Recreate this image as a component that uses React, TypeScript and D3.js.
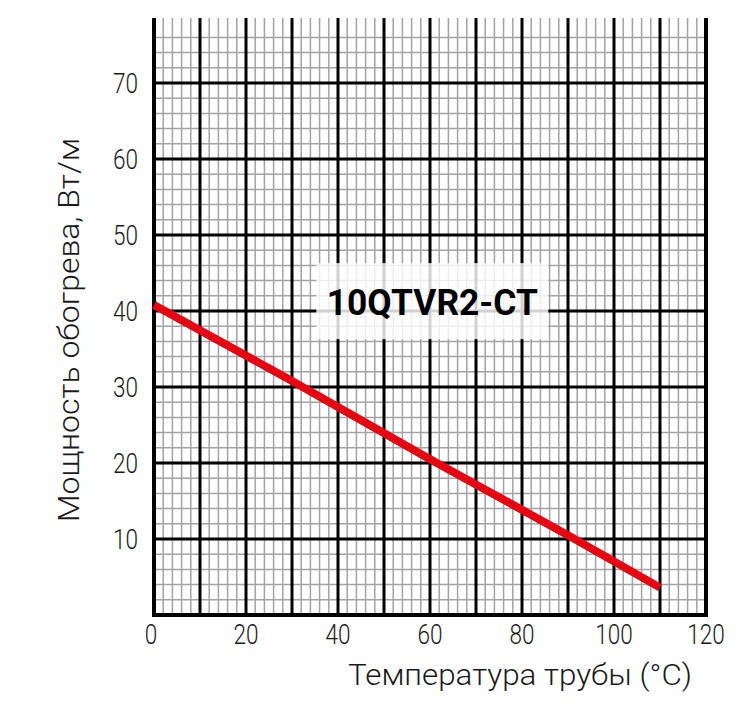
import React from 'react';
import * as d3 from 'd3';

// power curve: pipe temperature (°C) -> heat output (W/m)
const temps = [0, 30, 60, 90, 110];
const power = [40.8, 30.8, 20.5, 10.5, 3.6];

const xTicks = [0, 20, 40, 60, 80, 100, 120];
const yTicks = [10, 20, 30, 40, 50, 60, 70];

const seriesName = '10QTVR2-CT';
const xTitle = 'Температура трубы (°C)';
const yTitle = 'Мощность обогрева, Вт/м';

const width = 750;
const height = 710;
const margin = { top: 18, right: 44, bottom: 95, left: 154 };

const App: React.FC = () => {
    const x = d3.scaleLinear().domain([0, 120]).range([margin.left, width - margin.right]);
    const y = d3.scaleLinear().domain([0, 10]).range([height - margin.bottom, height - margin.bottom - 76]);
    const yTop = margin.top;
    const yBottom = y(0);

    // minor grid every 2 units, major every 10
    const minorX = d3.range(2, 120, 2).filter((v) => v % 10 !== 0);
    const majorX = d3.range(10, 120, 10);
    const minorY = d3.range(2, 78, 2).filter((v) => v % 10 !== 0);
    const majorY = d3.range(10, 78, 10);

    const line = d3
        .line<number>()
        .x((_, i) => x(temps[i]))
        .y((d) => y(d));

    const font = 'Roboto, "DejaVu Sans", sans-serif';
    // the original uses a condensed face, so squeeze the digits a little
    const digitWidth = 12.5;

    return (
        <svg
            width={width}
            height={height}
            style={{ position: 'absolute', left: 0, top: 0, background: '#fff' }}
        >
            {/* minor grid */}
            <g stroke="#a3a3a3" strokeWidth={1.5}>
                {minorX.map((v) => (
                    <line key={'mx' + v} x1={x(v)} x2={x(v)} y1={yTop} y2={yBottom} />
                ))}
                {minorY.map((v) => (
                    <line key={'my' + v} x1={x(0)} x2={x(120)} y1={y(v)} y2={y(v)} />
                ))}
            </g>
            {/* major grid */}
            <g stroke="#000" strokeWidth={3}>
                {majorX.map((v) => (
                    <line key={'Mx' + v} x1={x(v)} x2={x(v)} y1={yTop} y2={yBottom} />
                ))}
                {majorY.map((v) => (
                    <line key={'My' + v} x1={x(0)} x2={x(120)} y1={y(v)} y2={y(v)} />
                ))}
            </g>
            {/* frame */}
            <g stroke="#000" strokeWidth={4}>
                <line x1={x(0)} x2={x(0)} y1={yTop} y2={yBottom + 2} />
                <line x1={x(120)} x2={x(120)} y1={yTop} y2={yBottom + 2} />
                <line x1={x(0) - 2} x2={x(120) + 2} y1={yBottom} y2={yBottom} />
            </g>

            {/* series name on a whitish box */}
            <rect
                x={x(60.5) - 116}
                y={y(41.3) - 38}
                width={232}
                height={76}
                fill="#fff"
                fillOpacity={0.82}
            />
            <text
                x={x(60.5)}
                y={y(41.3) + 14}
                textAnchor="middle"
                fontFamily={font}
                fontWeight={700}
                fontSize={37}
                textLength={211}
                lengthAdjust="spacingAndGlyphs"
                fill="#000"
            >
                {seriesName}
            </text>

            {/* curve */}
            <path
                d={line(power) ?? ''}
                fill="none"
                stroke="#e30613"
                strokeWidth={8}
                strokeLinecap="butt"
            />

            {/* tick labels */}
            <g fontFamily={font} fontWeight={300} fontSize={27} fill="#1a1a1a">
                {yTicks.map((v) => (
                    <text
                        key={'yt' + v}
                        x={138}
                        y={y(v) + 10}
                        textAnchor="end"
                        textLength={String(v).length * digitWidth}
                        lengthAdjust="spacingAndGlyphs"
                    >
                        {v}
                    </text>
                ))}
                {xTicks.map((v) => (
                    <text
                        key={'xt' + v}
                        x={x(v) - (v === 0 ? 3 : 0)}
                        y={644}
                        textAnchor="middle"
                        textLength={String(v).length * digitWidth}
                        lengthAdjust="spacingAndGlyphs"
                    >
                        {v}
                    </text>
                ))}
            </g>

            {/* axis titles */}
            <text
                x={520}
                y={685}
                textAnchor="middle"
                fontFamily={font}
                fontWeight={300}
                fontSize={30}
                textLength={344}
                lengthAdjust="spacingAndGlyphs"
                fill="#1a1a1a"
            >
                {xTitle}
            </text>
            <text
                transform={`translate(79,${330}) rotate(-90)`}
                textAnchor="middle"
                fontFamily={font}
                fontWeight={300}
                fontSize={30}
                textLength={384}
                lengthAdjust="spacingAndGlyphs"
                fill="#1a1a1a"
            >
                {yTitle}
            </text>
        </svg>
    );
};

export default App;
